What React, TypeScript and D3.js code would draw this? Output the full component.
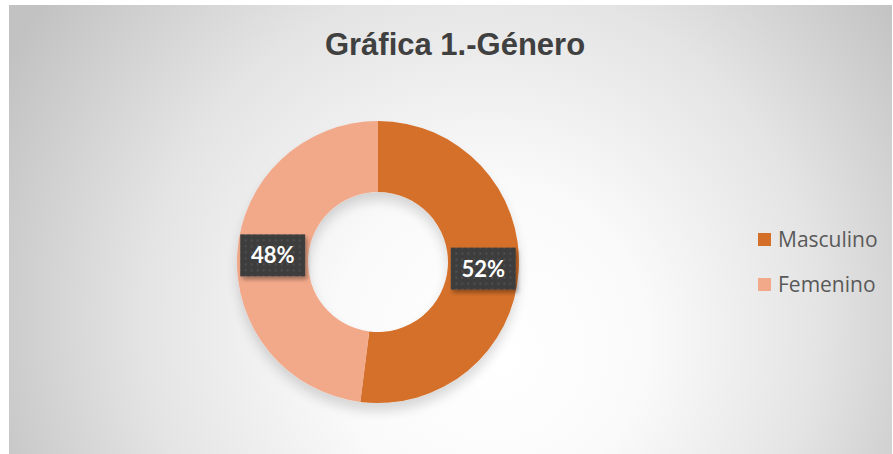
import React from "react";
import * as d3 from "d3";

const categories = ["Masculino", "Femenino"];
const values = [52, 48];
const labels = ["52%", "48%"];
const colors = ["#D46F2A", "#F2A98A"];
const title = "Gráfica 1.-Género";

export default function App() {
  const W = 893, H = 454;
  const cx = 378, cy = 262, R = 141, r = 70;
  const pie = d3.pie<number>().sort(null).value((d) => d)(values);
  const arc = d3.arc<d3.PieArcDatum<number>>().innerRadius(r).outerRadius(R);
  const mid = d3.arc<d3.PieArcDatum<number>>().innerRadius((R + r) / 2).outerRadius((R + r) / 2);
  return (
    <svg width={W} height={H} style={{ position: "absolute", left: 0, top: 0 }}>
      <defs>
        <radialGradient id="bg" gradientUnits="userSpaceOnUse" cx={470} cy={300} r={520} fx={500} fy={360}>
          <stop offset="0%" stopColor="#ffffff" />
          <stop offset="30%" stopColor="#fafafa" />
          <stop offset="65%" stopColor="#e4e4e4" />
          <stop offset="100%" stopColor="#c2c2c2" />
        </radialGradient>
        <pattern id="dots" width="6" height="6" patternUnits="userSpaceOnUse">
          <rect width="6" height="6" fill="#3d3d3d" />
          <rect x="2" y="2" width="2" height="2" fill="#505050" />
        </pattern>
        <filter id="shadow" x="-30%" y="-30%" width="160%" height="170%">
          <feGaussianBlur in="SourceAlpha" stdDeviation="6" />
          <feOffset dx="0" dy="8" result="b" />
          <feComponentTransfer><feFuncA type="linear" slope="0.15" /></feComponentTransfer>
          <feMerge><feMergeNode /><feMergeNode in="SourceGraphic" /></feMerge>
        </filter>
        <filter id="boxshadow" x="-30%" y="-30%" width="160%" height="170%">
          <feGaussianBlur in="SourceAlpha" stdDeviation="2" />
          <feOffset dx="2" dy="3" result="b" />
          <feComponentTransfer><feFuncA type="linear" slope="0.35" /></feComponentTransfer>
          <feMerge><feMergeNode /><feMergeNode in="SourceGraphic" /></feMerge>
        </filter>
      </defs>
      <rect x={9} y={5} width={883} height={449} fill="url(#bg)" />
      <text x={455} y={55} textAnchor="middle" fontFamily="'Liberation Sans', Arial, sans-serif" fontWeight="bold" fontSize={31} fill="#404040">{title}</text>
      <g transform={`translate(${cx},${cy})`} filter="url(#shadow)">
        {pie.map((p, i) => (
          <path key={categories[i]} d={arc(p) as string} fill={colors[i]} />
        ))}
      </g>
      <g transform={`translate(${cx},${cy})`}>
        {pie.map((p, i) => {
          const [x, y] = mid.centroid(p);
          return (
            <g key={"l" + i} transform={`translate(${x},${y})`}>
              <rect x={-32.5} y={-21} width={65} height={42} fill="url(#dots)" filter="url(#boxshadow)" />
              <text x={0} y={8} textAnchor="middle" fontFamily="Lato, 'Open Sans', sans-serif" fontWeight="bold" fontSize={22} fill="#ffffff">{labels[i]}</text>
            </g>
          );
        })}
      </g>
      {categories.map((c, i) => (
        <g key={"lg" + i} transform={`translate(758,${233 + i * 45})`}>
          <rect x={0} y={0} width={13} height={13} fill={colors[i]} />
          <text x={20} y={14} fontFamily="'Open Sans', sans-serif" fontSize={21} fill="#595959">{c}</text>
        </g>
      ))}
    </svg>
  );
}
